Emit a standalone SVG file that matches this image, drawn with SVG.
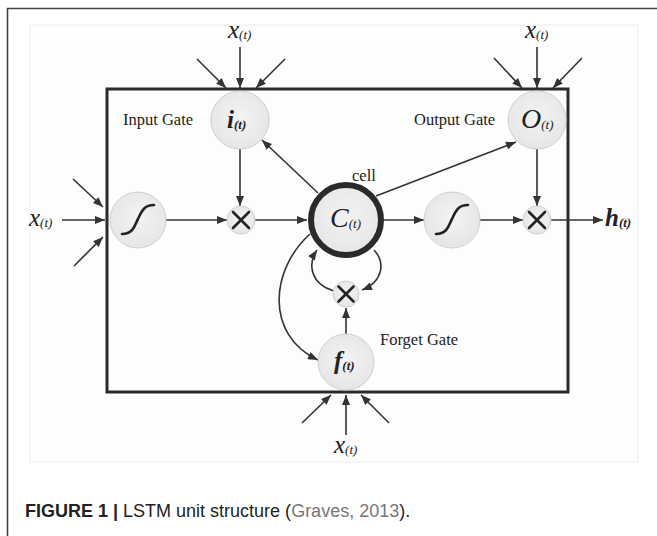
<svg xmlns="http://www.w3.org/2000/svg" width="657" height="536" viewBox="0 0 657 536">
  <defs>
    <marker id="ah" viewBox="0 0 10 8" refX="10" refY="4" markerWidth="11" markerHeight="8" markerUnits="userSpaceOnUse" orient="auto">
      <path d="M0,0 L10,4 L0,8 z" fill="#333"/>
    </marker>
    <radialGradient id="gfill" cx="50%" cy="45%" r="55%">
      <stop offset="0" stop-color="#f3f3f3"/>
      <stop offset="1" stop-color="#e6e6e6"/>
    </radialGradient>
  </defs>
  <style>
    .frame { fill: none; stroke: #444; stroke-width: 1.6; }
    .panel { fill: #fdfdfd; stroke: #eeeeee; stroke-width: 1; }
    .box { fill: none; stroke: #2b2b2b; stroke-width: 3; }
    .node { fill: url(#gfill); stroke: #cfcfcf; stroke-width: 1; }
    .cell { fill: url(#gfill); stroke: #2a2a2a; stroke-width: 6; }
    .glyph { fill: none; stroke: #222; stroke-width: 2.6; stroke-linecap: round; }
    .conn { fill: none; stroke: #333; stroke-width: 1.6; marker-end: url(#ah); }
    .lbl { font-family: "Liberation Serif", "DejaVu Serif", serif; font-size: 16.5px; fill: #222; }
    .var { font-family: "Liberation Serif", "DejaVu Serif", serif; font-style: italic; font-size: 25px; fill: #222; }
    .big { font-size: 28px; }
    .varb { font-weight: bold; }
    .sub { font-size: 13px; }
    .cap { font-family: "Liberation Sans", Arial, sans-serif; font-size: 18px; fill: #222; }
  </style>

  <rect width="657" height="536" fill="#ffffff"/>
  <path class="frame" d="M7.5,536 L7.5,8.5 L657,8.5"/>
  <rect class="panel" x="30" y="25" width="608" height="437"/>
  <rect class="box" x="107" y="89" width="461" height="303"/>

  <g id="connectors">
    <line class="conn" x1="62" y1="220" x2="105" y2="220"/>
    <line class="conn" x1="73" y1="179" x2="103" y2="207"/>
    <line class="conn" x1="74" y1="266" x2="103" y2="237"/>
    <line class="conn" x1="240" y1="47" x2="240" y2="88"/>
    <line class="conn" x1="197" y1="59" x2="226" y2="88"/>
    <line class="conn" x1="285" y1="59" x2="256" y2="88"/>
    <line class="conn" x1="537" y1="47" x2="537" y2="88"/>
    <line class="conn" x1="494" y1="58" x2="522" y2="88"/>
    <line class="conn" x1="582" y1="58" x2="553" y2="88"/>
    <line class="conn" x1="346" y1="435" x2="346" y2="395"/>
    <line class="conn" x1="302" y1="423" x2="331" y2="395"/>
    <line class="conn" x1="389" y1="423" x2="361" y2="395"/>
    <line class="conn" x1="166" y1="220" x2="227" y2="220"/>
    <line class="conn" x1="255" y1="220" x2="307" y2="220"/>
    <line class="conn" x1="384" y1="220" x2="424" y2="220"/>
    <line class="conn" x1="480" y1="220" x2="523" y2="220"/>
    <line class="conn" x1="551" y1="220" x2="603" y2="220"/>
    <line class="conn" x1="240" y1="149" x2="240" y2="206"/>
    <line class="conn" x1="537" y1="149" x2="537" y2="206"/>
    <line class="conn" x1="346" y1="334" x2="346" y2="308"/>
    <line class="conn" x1="318" y1="193" x2="262" y2="140"/>
    <line class="conn" x1="376" y1="196" x2="516" y2="142"/>
    <path class="conn" d="M310,234 C270,270 265,335 318,360"/>
    <path class="conn" d="M334,291 C311,284 307,265 317,250"/>
    <path class="conn" d="M374,250 C385,262 384,281 362,290"/>
  </g>

  <g id="node-sigmoid-in">
    <circle class="node" cx="138" cy="220" r="28"/>
    <path class="glyph" d="M122,234 C134,234 135,224 138,219 C141,213 143,205 154,205"/>
  </g>
  <g id="node-input-gate">
    <circle class="node" cx="240" cy="120" r="29"/>
    <text class="var varb" x="227" y="128">i<tspan class="sub" dy="1">(t)</tspan></text>
  </g>
  <g id="node-mult-in">
    <circle class="node" cx="241" cy="220" r="14"/>
    <path class="glyph" d="M233,212 L249,228 M249,212 L233,228"/>
  </g>
  <g id="node-cell">
    <circle class="cell" cx="346" cy="220" r="35"/>
    <text class="var big" x="330" y="227">C<tspan class="sub" dy="1">(t)</tspan></text>
  </g>
  <g id="node-sigmoid-out">
    <circle class="node" cx="452" cy="220" r="28"/>
    <path class="glyph" d="M436,234 C448,234 449,224 452,219 C455,213 457,205 468,205"/>
  </g>
  <g id="node-output-gate">
    <circle class="node" cx="537" cy="120" r="29"/>
    <text class="var big" x="521" y="128">O<tspan class="sub" dy="1">(t)</tspan></text>
  </g>
  <g id="node-mult-out">
    <circle class="node" cx="537" cy="220" r="14"/>
    <path class="glyph" d="M529,212 L545,228 M545,212 L529,228"/>
  </g>
  <g id="node-mult-forget">
    <circle class="node" cx="346" cy="294" r="13"/>
    <path class="glyph" d="M338.5,286.5 L353.5,301.5 M353.5,286.5 L338.5,301.5"/>
  </g>
  <g id="node-forget-gate">
    <circle class="node" cx="346" cy="362" r="28"/>
    <text class="var varb" x="334" y="369">f<tspan class="sub" dy="1">(t)</tspan></text>
  </g>

  <g id="labels">
    <text class="lbl" x="123" y="125">Input Gate</text>
    <text class="lbl" x="414" y="125">Output Gate</text>
    <text class="lbl" x="352" y="181">cell</text>
    <text class="lbl" x="380" y="345">Forget Gate</text>
    <text class="var" x="228" y="38">x<tspan class="sub" dy="1">(t)</tspan></text>
    <text class="var" x="525" y="38">x<tspan class="sub" dy="1">(t)</tspan></text>
    <text class="var" x="29" y="226">x<tspan class="sub" dy="1">(t)</tspan></text>
    <text class="var" x="334" y="453">x<tspan class="sub" dy="1">(t)</tspan></text>
    <text class="var varb" x="605" y="226">h<tspan class="sub" dy="1">(t)</tspan></text>
  </g>

  <text class="cap" x="25" y="517"><tspan font-weight="bold">FIGURE 1 |</tspan> LSTM unit structure (<tspan fill="#777">Graves, 2013</tspan>).</text>
</svg>
